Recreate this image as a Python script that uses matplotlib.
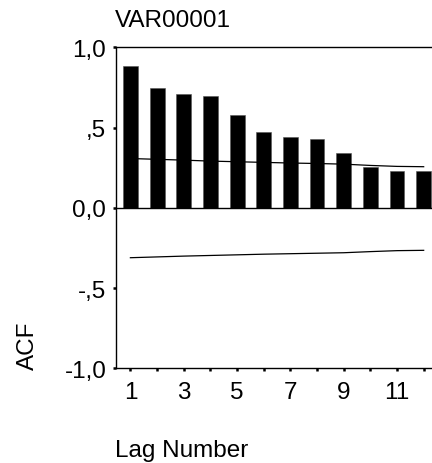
import matplotlib
matplotlib.use("Agg")
import matplotlib.pyplot as plt

lags = [1, 2, 3, 4, 5, 6, 7, 8, 9, 10, 11, 12]
acf = [0.885, 0.748, 0.708, 0.694, 0.579, 0.475, 0.444, 0.427, 0.339, 0.252, 0.227, 0.227]
upper = [0.307, 0.302, 0.297, 0.291, 0.287, 0.283, 0.279, 0.276, 0.272, 0.264, 0.258, 0.256]
lower = [-0.311, -0.306, -0.301, -0.297, -0.293, -0.289, -0.286, -0.283, -0.280, -0.273, -0.267, -0.265]
xtick_vals = [1, 3, 5, 7, 9, 11]
ytick_vals = [1.0, 0.5, 0.0, -0.5, -1.0]
ytick_labels = ['1,0', ',5', '0,0', '-,5', '-1,0']

plt.rcParams['font.family'] = ['Liberation Sans', 'DejaVu Sans']
FS = 17.5

W, H = 432, 464
fig = plt.figure(figsize=(W / 100, H / 100), dpi=100)
left_px, right_px = 116, 437
top_px, bot_px = 48.3, 369.3
ax = fig.add_axes([left_px / W, 1 - bot_px / H, (right_px - left_px) / W, (bot_px - top_px) / H])

ax.bar(lags, acf, width=0.56, color='black', edgecolor='#555555', linewidth=0.4, zorder=2)
ax.plot(lags, upper, color='black', lw=0.9, zorder=3)
ax.plot(lags, lower, color='black', lw=0.9, zorder=3)
ax.axhline(0, color='black', lw=1.0, zorder=3)

ax.set_xlim(0.46, 12.5)
ax.set_ylim(-1.0, 1.0)
ax.set_xticks(lags)
ax.set_xticklabels([str(l) if l in xtick_vals else '' for l in lags], fontsize=FS)
ax.set_yticks(ytick_vals)
ax.set_yticklabels(ytick_labels, fontsize=FS)
ax.tick_params(axis='both', direction='out', length=2.5, width=1.8, color='black')
ax.tick_params(axis='x', pad=7)
ax.tick_params(axis='y', pad=4.5)
for s in ['top', 'bottom', 'left']:
    ax.spines[s].set_linewidth(1.0)
ax.spines['right'].set_visible(False)

fig.text(115 / W, 1 - 27 / H, 'VAR00001', fontsize=FS, ha='left', va='baseline')
fig.text(115 / W, 1 - 457 / H, 'Lag Number', fontsize=FS, ha='left', va='baseline')
fig.text(27.5 / W, 1 - 370 / H, 'ACF', fontsize=FS, rotation=90, ha='center', va='bottom')

fig.savefig('out.png', dpi=100)
